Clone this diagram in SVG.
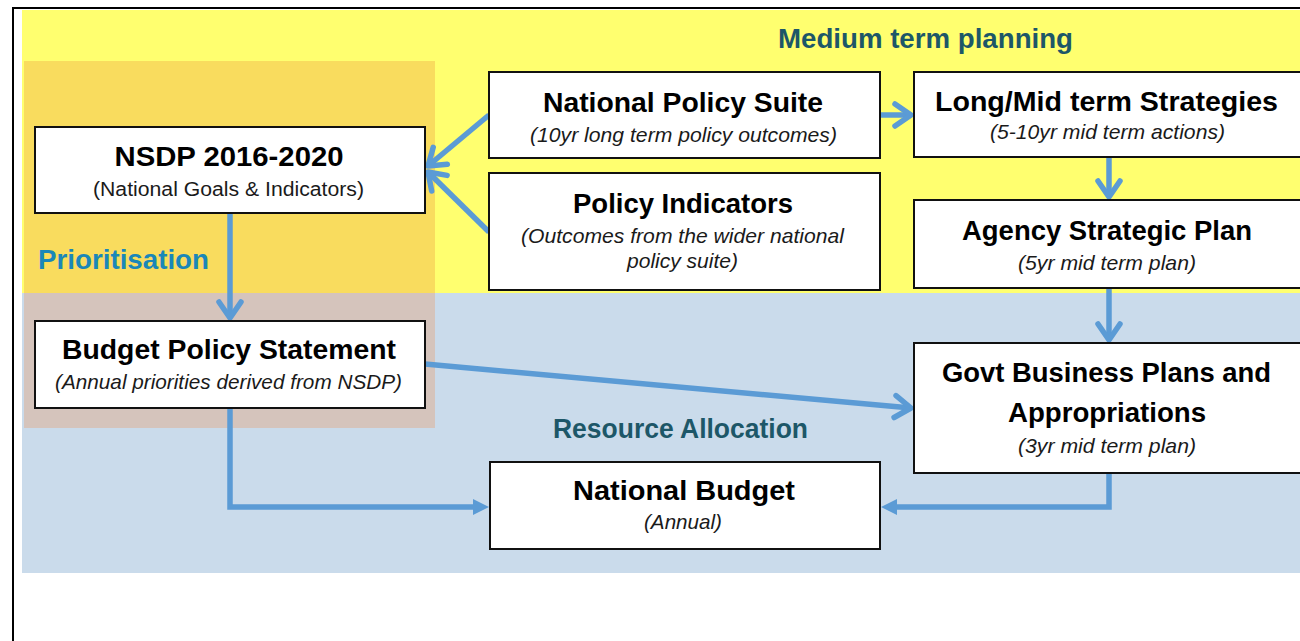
<svg xmlns="http://www.w3.org/2000/svg" width="1300" height="641" viewBox="0 0 1300 641">
<style>
text{font-family:"Liberation Sans",Arial,sans-serif;fill:#000;text-anchor:middle}
.t{font-weight:bold;font-size:27px}
.s{font-style:italic;font-size:21px;fill:#1a1a1a}
.r{font-size:20px;fill:#1a1a1a}
.h{font-weight:bold;font-size:27px;fill:#1D5768}
.p{font-weight:bold;font-size:27px;fill:#1A87B8;text-anchor:start}
.box{fill:#fff;stroke:#111;stroke-width:2}
.c{fill:none;stroke:#5B9BD5;stroke-width:5.5}
</style>
<defs>
<marker id="chev" markerUnits="userSpaceOnUse" viewBox="-24 -16 30 32" refX="0" refY="0" markerWidth="30" markerHeight="32" orient="auto" overflow="visible">
<path d="M-16,-11 L0,0 L-16,11" fill="none" stroke="#5B9BD5" stroke-width="5.5" stroke-linecap="round" stroke-linejoin="round"/>
</marker>
<marker id="tri" markerUnits="userSpaceOnUse" viewBox="-2 -10 20 20" refX="0" refY="0" markerWidth="20" markerHeight="20" orient="auto" overflow="visible">
<path d="M0,-8 L16,0 L0,8 Z" fill="#5B9BD5"/>
</marker>
</defs>

<g id="background">
<rect x="0" y="0" width="1300" height="641" fill="#fff"/>
<rect x="22" y="10" width="1290" height="283" fill="#FFFF6F"/>
<rect x="22" y="293" width="1290" height="280" fill="#CADBEB"/>
<rect x="24" y="61" width="411" height="232" fill="#F9DC5E"/>
<rect x="24" y="293" width="411" height="135" fill="#D5C4BC"/>
<rect x="13" y="8" width="1400" height="700" fill="none" stroke="#000" stroke-width="2"/>
</g>

<g id="labels">
<text class="h" x="925.5" y="48" textLength="295" lengthAdjust="spacingAndGlyphs">Medium term planning</text>
<text class="p" x="38" y="269" textLength="171" lengthAdjust="spacingAndGlyphs">Prioritisation</text>
<text class="h" x="680.5" y="438" textLength="255" lengthAdjust="spacingAndGlyphs">Resource Allocation</text>
</g>

<g id="connectors">
<line class="c" x1="489" y1="115" x2="428" y2="166" marker-end="url(#chev)"/>
<line class="c" x1="489" y1="232" x2="428" y2="172" marker-end="url(#chev)"/>
<line class="c" x1="880" y1="115" x2="911" y2="115" marker-end="url(#chev)"/>
<line class="c" x1="1109" y1="157" x2="1109" y2="197" marker-end="url(#chev)"/>
<line class="c" x1="230" y1="213" x2="230" y2="318" marker-end="url(#chev)"/>
<line class="c" x1="1109" y1="288" x2="1109" y2="340" marker-end="url(#chev)"/>
<line class="c" x1="425" y1="364" x2="911" y2="408" marker-end="url(#chev)"/>
<path class="c" d="M230,408 V507 H473" marker-end="url(#tri)"/>
<path class="c" d="M1109,473 V507 H897" marker-end="url(#tri)"/>
</g>

<g id="nsdp">
<rect class="box" x="35" y="127" width="390" height="86"/>
<text class="t" x="229" y="166" textLength="229" lengthAdjust="spacingAndGlyphs">NSDP 2016-2020</text>
<text class="r" x="228.5" y="196" textLength="271" lengthAdjust="spacingAndGlyphs">(National Goals &amp; Indicators)</text>
</g>

<g id="national-policy-suite">
<rect class="box" x="489" y="72" width="391" height="86"/>
<text class="t" x="683" y="112" textLength="280" lengthAdjust="spacingAndGlyphs">National  Policy Suite</text>
<text class="s" x="683.5" y="142" textLength="307" lengthAdjust="spacingAndGlyphs">(10yr long term policy outcomes)</text>
</g>

<g id="policy-indicators">
<rect class="box" x="489" y="173" width="391" height="117"/>
<text class="t" x="683" y="213" textLength="220" lengthAdjust="spacingAndGlyphs">Policy Indicators</text>
<text class="s" x="682.5" y="243" textLength="323" lengthAdjust="spacingAndGlyphs">(Outcomes from the wider national</text>
<text class="s" x="682.5" y="268" textLength="111" lengthAdjust="spacingAndGlyphs">policy suite)</text>
</g>

<g id="long-mid-strategies">
<rect class="box" x="914" y="72" width="390" height="85"/>
<text class="t" x="1106.5" y="111" textLength="343" lengthAdjust="spacingAndGlyphs">Long/Mid term Strategies</text>
<text class="s" x="1107.5" y="139" textLength="235" lengthAdjust="spacingAndGlyphs">(5-10yr mid term actions)</text>
</g>

<g id="agency-strategic-plan">
<rect class="box" x="914" y="200" width="390" height="88"/>
<text class="t" x="1107" y="240" textLength="290" lengthAdjust="spacingAndGlyphs">Agency Strategic Plan</text>
<text class="s" x="1107" y="270" textLength="178" lengthAdjust="spacingAndGlyphs">(5yr mid term plan)</text>
</g>

<g id="govt-business-plans">
<rect class="box" x="914" y="343" width="390" height="130"/>
<text class="t" x="1106.5" y="382" textLength="329" lengthAdjust="spacingAndGlyphs">Govt Business Plans  and</text>
<text class="t" x="1107" y="422" textLength="198" lengthAdjust="spacingAndGlyphs">Appropriations</text>
<text class="s" x="1107" y="453" textLength="178" lengthAdjust="spacingAndGlyphs">(3yr mid term plan)</text>
</g>

<g id="budget-policy-statement">
<rect class="box" x="35" y="321" width="390" height="87"/>
<text class="t" x="229" y="359" textLength="334" lengthAdjust="spacingAndGlyphs">Budget Policy Statement</text>
<text class="s" x="228.5" y="389" textLength="347" lengthAdjust="spacingAndGlyphs">(Annual priorities derived from NSDP)</text>
</g>

<g id="national-budget">
<rect class="box" x="490" y="462" width="390" height="87"/>
<text class="t" x="684" y="500" textLength="222" lengthAdjust="spacingAndGlyphs">National  Budget</text>
<text class="s" x="683" y="529" textLength="78" lengthAdjust="spacingAndGlyphs">(Annual)</text>
</g>
</svg>
